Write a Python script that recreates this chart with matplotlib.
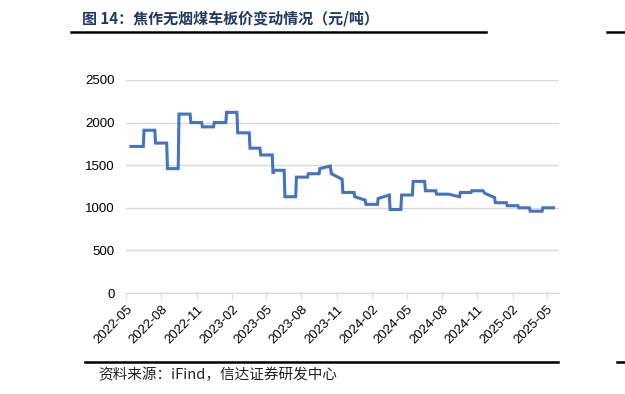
import matplotlib
matplotlib.use("Agg")
import matplotlib.pyplot as plt
import matplotlib.dates as mdates
from matplotlib.lines import Line2D
import pandas as pd

plt.rcParams['font.family'] = ['Liberation Sans', 'Noto Sans CJK SC', 'DejaVu Sans']

# 焦作无烟煤车板价 (元/吨)
dates = ['2022-05-14', '2022-06-15', '2022-06-17', '2022-07-15', '2022-07-17',
         '2022-08-15', '2022-08-17', '2022-09-14', '2022-09-16', '2022-10-15',
         '2022-10-17', '2022-11-14', '2022-11-16', '2022-12-15', '2022-12-17',
         '2023-01-16', '2023-01-18', '2023-02-14', '2023-02-16', '2023-03-18',
         '2023-03-20', '2023-04-15', '2023-04-17', '2023-05-17', '2023-05-19',
         '2023-05-22', '2023-06-17', '2023-06-19', '2023-07-17', '2023-07-19',
         '2023-08-17', '2023-08-19', '2023-09-16', '2023-09-18', '2023-10-15',
         '2023-10-18', '2023-11-15', '2023-11-17', '2023-12-16', '2023-12-18',
         '2024-01-14', '2024-01-16', '2024-02-15', '2024-02-17', '2024-03-17',
         '2024-03-19', '2024-04-16', '2024-04-18', '2024-05-16', '2024-05-18',
         '2024-06-17', '2024-06-19', '2024-07-16', '2024-07-18', '2024-08-18',
         '2024-09-16', '2024-09-18', '2024-10-16', '2024-10-18', '2024-11-16',
         '2024-11-21', '2024-12-16', '2024-12-18', '2025-01-16', '2025-01-18',
         '2025-02-15', '2025-02-17', '2025-03-17', '2025-03-19', '2025-04-19',
         '2025-04-21', '2025-05-19']
prices = [1720, 1720, 1910, 1910, 1760,
          1760, 1460, 1460, 2100, 2100,
          2000, 2000, 1950, 1950, 2000,
          2000, 2120, 2120, 1880, 1880,
          1700, 1700, 1620, 1620, 1400,
          1440, 1440, 1130, 1130, 1360,
          1360, 1400, 1400, 1460, 1490,
          1400, 1335, 1180, 1180, 1130,
          1090, 1040, 1040, 1110, 1150,
          980, 980, 1150, 1150, 1310,
          1310, 1200, 1200, 1160, 1160,
          1130, 1180, 1180, 1200, 1200,
          1170, 1120, 1060, 1060, 1025,
          1025, 1000, 1000, 960, 960,
          1000, 1000]

x = pd.to_datetime(dates)

fig = plt.figure(figsize=(6.25, 3.94), dpi=100)
ax = fig.add_axes([126/625, 1-293/394, (559-126)/625, (293-80)/394])

ax.plot(x, prices, color='#4472C4', lw=2.2, solid_joinstyle='miter')

ax.set_ylim(0, 2500)
ax.set_yticks([0, 500, 1000, 1500, 2000, 2500])
ax.set_xlim(pd.Timestamp('2022-05-01'), pd.Timestamp('2025-06-02'))
ax.xaxis.set_major_locator(mdates.MonthLocator(bymonth=[2, 5, 8, 11]))
ax.xaxis.set_major_formatter(mdates.DateFormatter('%Y-%m'))
ax.grid(axis='y', color='#d9d9d9', lw=1)
ax.set_axisbelow(True)
for s in ['top', 'right', 'left']:
    ax.spines[s].set_visible(False)
ax.spines['bottom'].set_color('#d9d9d9')
ax.tick_params(axis='y', length=0, labelsize=9.5, pad=8)
ax.tick_params(axis='x', length=4, color='#d9d9d9', labelsize=9.5)
plt.setp(ax.get_xticklabels(), rotation=45, ha='right', rotation_mode='anchor')

# title and frame lines
fig.text(82/625, 1-18/394, '图 14：焦作无烟煤车板价变动情况（元/吨）', family=['Noto Sans CJK SC'],
         fontsize=10.8, fontweight='bold', color='#1f3864', va='center', ha='left')
fig.add_artist(Line2D([71/625, 486/625], [1-32/394, 1-32/394], color='black', lw=1.8))
fig.add_artist(Line2D([607/625, 1], [1-32/394, 1-32/394], color='black', lw=1.8))
fig.add_artist(Line2D([85/625, 558/625], [1-362/394, 1-362/394], color='black', lw=1.8))
fig.add_artist(Line2D([617/625, 1], [1-362/394, 1-362/394], color='black', lw=1.8))
fig.text(98/625, 1-375/394, '资料来源：iFind，信达证券研发中心', family=['Noto Sans CJK SC'],
         fontsize=10.5, style='italic', color='#222222', va='center', ha='left')

fig.savefig('out.png', dpi=100)
